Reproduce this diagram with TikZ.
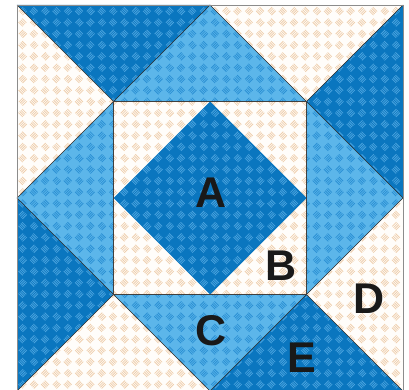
\documentclass[tikz,border=0pt]{standalone}
\usepackage{fontspec}
\setmainfont{Liberation Sans}
\usetikzlibrary{patterns.meta}
\definecolor{QuiltDark}{HTML}{0A76BF}
\definecolor{QuiltDarkLine}{HTML}{4AA3DE}
\definecolor{QuiltLight}{HTML}{5CB6EA}
\definecolor{QuiltLightLine}{HTML}{2B90D4}
\definecolor{QuiltCream}{HTML}{FFFDFA}
\definecolor{QuiltCreamLine}{HTML}{EFCFAE}

\tikzdeclarepattern{
   name=weave, type=uncolored,
   bounding box={(-0.5pt,-0.5pt) and (16.5pt,16.5pt)},
   tile size={(16pt,16pt)},
   tile transformation={rotate=45},
   code={
      \foreach \i in {0,...,3} {
         \draw[line width=0.8pt] (1.2pt+1.7pt*\i,1pt) -- ++(0,6pt);
         \draw[line width=0.8pt] (9pt,9.2pt+1.7pt*\i) -- ++(6pt,0);
      }
   }
}

\begin{document}
\begin{tikzpicture}[
      dark/.style={fill=QuiltDark, postaction={pattern=weave, pattern color=QuiltDarkLine}},
      light/.style={fill=QuiltLight, postaction={pattern=weave, pattern color=QuiltLightLine}},
      cream/.style={fill=QuiltCream, postaction={pattern=weave, pattern color=QuiltCreamLine}},
      seam/.style={draw=black!85, line width=0.6pt},
      lbl/.style={font=\fontsize{43}{43}\selectfont\bfseries, text=black!90, inner sep=0pt},
   ]
   \useasboundingbox (0,0) rectangle (409pt,-390pt);

   \begin{scope}[shift={(17pt,-5pt)}, x=96.5pt, y=-96.5pt]
      % outer ring: dark, light, cream on each side
      \foreach \r in {0,90,180,270} {
         \begin{scope}[rotate around={\r:(2,2)}]
            \path[dark]  (0,0) -- (2,0) -- (1,1) -- cycle;
            \path[light] (2,0) -- (3,1) -- (1,1) -- cycle;
            \path[cream] (2,0) -- (4,0) -- (3,1) -- cycle;
         \end{scope}
      }

      % centre square with diamond
      \path[cream] (1,1) rectangle (3,3);
      \path[dark] (2,1) -- (3,2) -- (2,3) -- (1,2) -- cycle;

      % seams
      \foreach \r in {0,90,180,270} {
         \begin{scope}[rotate around={\r:(2,2)}]
            \draw[seam] (0,0) -- (1,1) -- (2,0) -- (3,1);
         \end{scope}
      }
      \draw[draw=black!75, line width=1.2pt] (1,1) rectangle (3,3);
      \draw[draw=black!45, line width=0.9pt] (0,0) rectangle (4,4);

      % labels
      \node[lbl] (A) at (2.01,1.95) {A};
      \node[lbl] (B) at (2.74,2.70) {B};
      \node[lbl] (C) at (2.01,3.38) {C};
      \node[lbl] (D) at (3.65,3.04) {D};
      \node[lbl] (E) at (2.95,3.65) {E};
   \end{scope}
\end{tikzpicture}
\end{document}
